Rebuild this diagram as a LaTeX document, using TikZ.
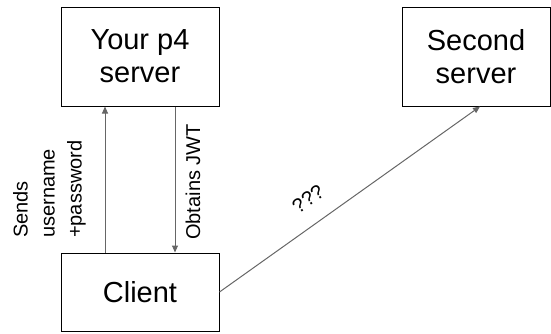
\documentclass[tikz,border=0pt]{standalone}
\usepackage{fontspec}
\setmainfont{Liberation Sans}
\usetikzlibrary{arrows.meta}
\begin{document}
\begin{tikzpicture}[x=1pt,y=-1pt,
  box/.style={draw=black,line width=1pt,minimum width=#1,inner sep=0pt,align=center,
    font=\fontsize{29}{33}\selectfont},
  link/.style={draw=black!60,line width=1pt,-{Triangle[length=7pt,width=6pt]}},
  lbl/.style={font=\fontsize{20}{27}\selectfont,inner sep=0pt}]
  \useasboundingbox (0,0) rectangle (551,333);
  \node[box=158pt,minimum height=99pt] (p4) at (140,56.5) {Your p4\\server};
  \node[box=158pt,minimum height=78pt] (client) at (140,292) {Client};
  \node[box=148pt,minimum height=99pt] (second) at (476,56.5) {Second\\server};
  \draw[link] ([xshift=-35pt]client.north) -- ([xshift=-35pt]p4.south);
  \draw[link] ([xshift=35pt]p4.south) -- ([xshift=35pt]client.north);
  \draw[link] (client.east) -- ([xshift=4pt]second.south);
  \node[lbl,rotate=90,align=left,anchor=south west] (send) at (86,238) {Sends\\username\\+password};
  \node[lbl,rotate=90,anchor=center] (jwt) at (193,182) {Obtains JWT};
  \node[lbl,rotate=35.5,anchor=center,font=\fontsize{20}{22}\selectfont] (q) at (308,199) {???};
\end{tikzpicture}
\end{document}
